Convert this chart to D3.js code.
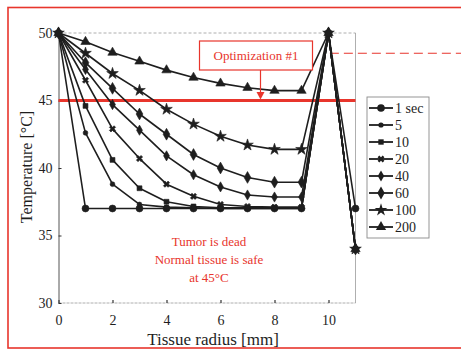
<!DOCTYPE html>
<html>
<head>
<meta charset="utf-8">
<script src="https://cdn.jsdelivr.net/npm/d3@7"></script>
<style>
  html, body { margin: 0; padding: 0; background: #fff; }
  svg { display: block; }
  text { font-family: "Liberation Serif", "Times New Roman", serif; }
</style>
</head>
<body>
<svg id="chart" width="461" height="349"></svg>
<script>
// Tissue radius [mm] sampled at each millimetre
const radius = [0, 1, 2, 3, 4, 5, 6, 7, 8, 9, 10, 11];

// Temperature profiles [°C] after each heating time
const temp1s   = [50, 37.0, 37.0, 37.0, 37.0, 37.0, 37.0, 37.0, 37.0, 37.0, 50, 37.0];
const temp5s   = [50, 42.6, 38.8, 37.3, 37.1, 37.05, 37.0, 37.0, 37.0, 37.0, 50, 34.0];
const temp10s  = [50, 44.6, 40.6, 38.5, 37.5, 37.15, 37.05, 37.05, 37.05, 37.05, 50, 34.0];
const temp20s  = [50, 46.5, 42.9, 40.7, 38.8, 37.9, 37.3, 37.15, 37.1, 37.1, 50, 34.0];
const temp40s  = [50, 47.3, 44.7, 42.8, 40.9, 39.5, 38.6, 38.0, 37.85, 37.85, 50, 34.0];
const temp60s  = [50, 47.8, 45.9, 44.0, 42.5, 41.0, 40.0, 39.3, 38.95, 38.95, 50, 34.0];
const temp100s = [50, 48.5, 47.0, 45.75, 44.35, 43.25, 42.35, 41.7, 41.38, 41.38, 50, 34.0];
const temp200s = [50, 49.35, 48.55, 47.9, 47.25, 46.7, 46.27, 45.95, 45.73, 45.73, 50, 34.0];

const seriesLabels = ["1 sec", "5", "10", "20", "40", "60", "100", "200"];
const seriesValues = [temp1s, temp5s, temp10s, temp20s, temp40s, temp60s, temp100s, temp200s];

// Axis ticks
const xTicks = [0, 2, 4, 6, 8, 10];
const yTicks = [30, 35, 40, 45, 50];

// Reference temperatures
const safeTemp = 45;       // normal tissue limit
const optimTemp = 48.5;    // optimisation target (dashed)

const svg = d3.select("#chart");
const W = 461, H = 349;

const x = d3.scaleLinear().domain([0, 11]).range([58.5, 355.5]);
const y = d3.scaleLinear().domain([30, 50]).range([303, 33]);

const red = "#e8352c";
const ink = "#1e1e1e";

// Outer red frame
svg.append("rect")
  .attr("x", 8).attr("y", 7.5).attr("width", 470).attr("height", 340.5)
  .attr("fill", "none").attr("stroke", red).attr("stroke-width", 1.6);

// Plot frame (light)
const frame = svg.append("g").attr("stroke", "#9a9a9a").attr("fill", "none").attr("stroke-width", 0.8);
frame.append("line").attr("x1", x(0)).attr("x2", x(11)).attr("y1", y(50)).attr("y2", y(50))
  .attr("stroke-dasharray", "3,2");
frame.append("line").attr("x1", x(11)).attr("x2", x(11)).attr("y1", y(50)).attr("y2", y(30));
frame.append("line").attr("x1", x(0)).attr("x2", x(11)).attr("y1", y(30)).attr("y2", y(30))
  .attr("stroke-dasharray", "3,1");

// Axes
const xAxis = svg.append("g")
  .attr("transform", `translate(0,${y(30)})`)
  .call(d3.axisBottom(x).tickValues(xTicks).tickSize(-3).tickPadding(12).tickSizeOuter(0));
xAxis.select(".domain").remove();
xAxis.selectAll("line").attr("stroke", "#333").attr("stroke-width", 1.2);
xAxis.selectAll("text").attr("font-size", 14).attr("fill", ink)
  .style("font-family", '"Liberation Serif", serif');

const yAxis = svg.append("g")
  .attr("transform", `translate(${x(0)},0)`)
  .call(d3.axisLeft(y).tickValues(yTicks).tickSize(-3).tickPadding(6).tickSizeOuter(0));
yAxis.select(".domain").attr("stroke", "#555").attr("stroke-width", 1);
yAxis.selectAll("line").attr("stroke", "#333");
yAxis.selectAll("text").attr("font-size", 14).attr("fill", ink)
  .style("font-family", '"Liberation Serif", serif');

// Axis titles
svg.append("text")
  .attr("x", 213).attr("y", 345)
  .attr("text-anchor", "middle").attr("font-size", 17).attr("fill", ink)
  .text("Tissue radius [mm]");
svg.append("text")
  .attr("transform", "translate(32,167) rotate(-90)")
  .attr("text-anchor", "middle").attr("font-size", 16).attr("fill", ink)
  .text("Temperature [°C]");

// 45 °C safety line
svg.append("line")
  .attr("x1", x(0)).attr("x2", x(11)).attr("y1", y(safeTemp)).attr("y2", y(safeTemp))
  .attr("stroke", red).attr("stroke-width", 3);

// Optimisation target dashed line
svg.append("line")
  .attr("x1", x(10.05)).attr("x2", W).attr("y1", y(optimTemp)).attr("y2", y(optimTemp))
  .attr("stroke", red).attr("stroke-width", 1.2).attr("stroke-dasharray", "9,5");

// Marker shapes per series
const markerDefs = [
  { type: d3.symbolCircle,   size: 38 },
  { type: d3.symbolCircle,   size: 18 },
  { type: d3.symbolSquare,   size: 24 },
  { type: d3.symbolCross,    size: 24, rotate: 45 },
  { type: d3.symbolDiamond,  size: 30 },
  { type: d3.symbolDiamond,  size: 40 },
  { type: d3.symbolStar,     size: 42 },
  { type: d3.symbolTriangle, size: 38 }
];

const line = d3.line().x((d, i) => x(radius[i])).y(d => y(d));

const plot = svg.append("g");
seriesValues.forEach((vals, s) => {
  plot.append("path")
    .attr("d", line(vals))
    .attr("fill", "none").attr("stroke", ink).attr("stroke-width", 1.6)
    .attr("stroke-linejoin", "round");
  const m = markerDefs[s];
  plot.selectAll(null).data(vals).enter().append("path")
    .attr("d", d3.symbol().type(m.type).size(m.size))
    .attr("transform", (d, i) => `translate(${x(radius[i])},${y(d)}) rotate(${m.rotate || 0})`)
    .attr("fill", ink).attr("stroke", ink).attr("stroke-width", 0.6);
});

// Legend
const lg = svg.append("g").attr("transform", "translate(367,97)");
lg.append("rect").attr("x", 0).attr("y", 0).attr("width", 62).attr("height", 141)
  .attr("fill", "#fff").attr("stroke", "#8a8a8a").attr("stroke-width", 0.9);
seriesLabels.forEach((lab, s) => {
  const yy = 11 + s * 17;
  lg.append("line").attr("x1", 2).attr("x2", 26).attr("y1", yy).attr("y2", yy)
    .attr("stroke", ink).attr("stroke-width", 1.8);
  const m = markerDefs[s];
  lg.append("path")
    .attr("d", d3.symbol().type(m.type).size(m.size * 1.2))
    .attr("transform", `translate(14,${yy}) rotate(${m.rotate || 0})`)
    .attr("fill", ink);
  lg.append("text").attr("x", 28).attr("y", yy + 5)
    .attr("font-size", 14).attr("fill", ink).text(lab);
});

// Optimization annotation box with arrow to the 45 °C line
svg.append("rect")
  .attr("x", 199.5).attr("y", 41).attr("width", 113).attr("height", 29)
  .attr("fill", "#fff").attr("stroke", red).attr("stroke-width", 1.2);
svg.append("text")
  .attr("x", 256).attr("y", 60)
  .attr("text-anchor", "middle").attr("font-size", 13).attr("fill", red)
  .text("Optimization #1");
const ax = 260.5;
svg.append("line").attr("x1", ax).attr("x2", ax).attr("y1", 70).attr("y2", 93)
  .attr("stroke", red).attr("stroke-width", 1.2);
svg.append("path")
  .attr("d", `M${ax - 4},92 L${ax + 4},92 L${ax},${y(safeTemp) - 1} Z`)
  .attr("fill", red);

// Explanatory note
const note = svg.append("text").attr("text-anchor", "middle").attr("font-size", 13).attr("fill", red);
note.append("tspan").attr("x", 209).attr("y", 246).text("Tumor is dead");
note.append("tspan").attr("x", 209).attr("y", 264).text("Normal tissue is safe");
note.append("tspan").attr("x", 209).attr("y", 282).text("at 45°C");
</script>
</body>
</html>
